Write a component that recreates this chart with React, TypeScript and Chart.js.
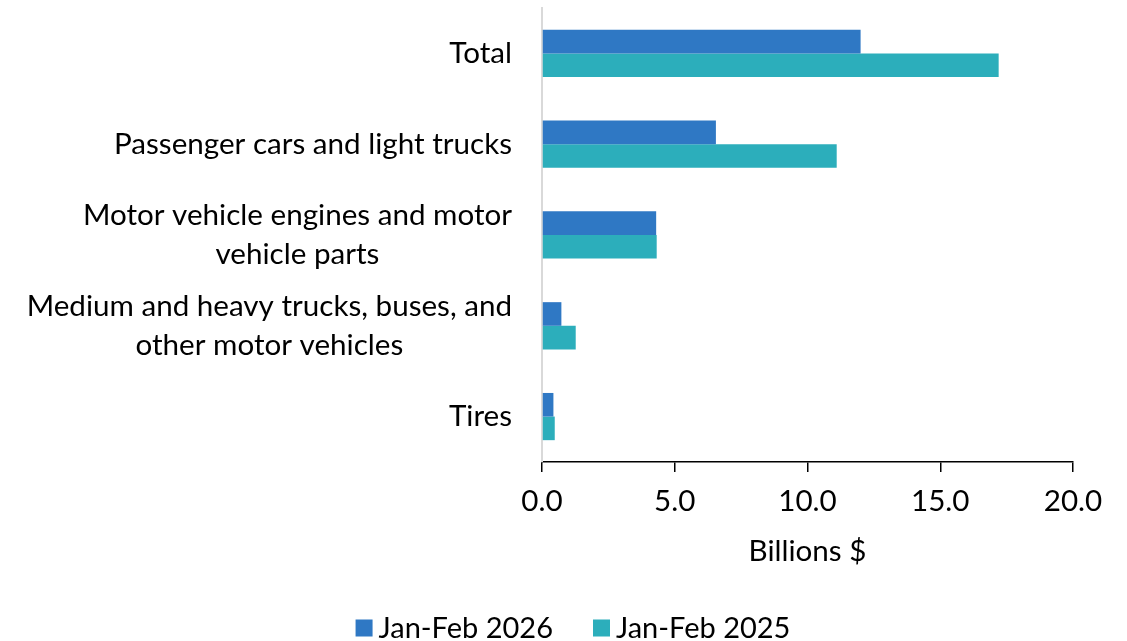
import React, { useEffect, useRef } from "react";
import { Chart, registerables } from "chart.js";

Chart.register(...registerables);

const categories: string[][] = [
  ["Total"],
  ["Passenger cars and light trucks"],
  ["Motor vehicle engines and motor", "vehicle parts"],
  ["Medium and heavy trucks, buses, and", "other motor vehicles"],
  ["Tires"],
];
const series2026Label = "Jan-Feb 2026";
const series2025Label = "Jan-Feb 2025";
const values2026 = [12.0, 6.55, 4.3, 0.73, 0.43];
const values2025 = [17.2, 11.1, 4.32, 1.27, 0.48];
const xTicks = [0, 5, 10, 15, 20];
const xTitle = "Billions $";

const COLOR_2026 = "#2F78C4";
const COLOR_2025 = "#2CAEBB";
const FONT = "Lato";
const FS = 29.6;
const LEGEND_FS = 29;

const labelPlugin = {
  id: "customLabels",
  afterDraw(chart: any) {
    const ctx = chart.ctx;
    const yScale = chart.scales.y;
    ctx.save();
    ctx.font = `${FS}px ${FONT}`;
    ctx.fillStyle = "#000";
    ctx.textBaseline = "middle";
    ctx.textAlign = "center";
    const rightX = chart.chartArea.left - 30;
    const lh = 39;
    categories.forEach((lines, i) => {
      const cy = yScale.getPixelForValue(i);
      const w = Math.max(...lines.map((l) => ctx.measureText(l).width));
      const cx = rightX - w / 2;
      lines.forEach((l, j) => {
        ctx.fillText(l, cx, cy + (j - (lines.length - 1) / 2) * lh);
      });
    });
    // legend
    ctx.font = `${LEGEND_FS}px ${FONT}`;
    const items = [
      { label: series2026Label, color: COLOR_2026 },
      { label: series2025Label, color: COLOR_2025 },
    ];
    const box = 17;
    const gapBoxText = 6;
    const gapItems = 40;
    const widths = items.map((it) => box + gapBoxText + ctx.measureText(it.label).width);
    const total = widths.reduce((a, b) => a + b, 0) + gapItems;
    let x = 573 - total / 2;
    const ly = 628;
    ctx.textAlign = "left";
    items.forEach((it, i) => {
      ctx.fillStyle = it.color;
      ctx.fillRect(x, ly - box / 2, box, box);
      ctx.fillStyle = "#000";
      ctx.fillText(it.label, x + box + gapBoxText, ly + 1);
      x += widths[i] + gapItems;
    });
    ctx.restore();
  },
};

export default function App() {
  const ref = useRef<HTMLCanvasElement>(null);
  useEffect(() => {
    if (!ref.current) return;
    const chart = new Chart(ref.current, {
      type: "bar",
      data: {
        labels: categories.map((c) => c.join(" ")),
        datasets: [
          {
            label: series2026Label,
            data: values2026,
            backgroundColor: COLOR_2026,
            categoryPercentage: 0.52,
            barPercentage: 1.0,
          },
          {
            label: series2025Label,
            data: values2025,
            backgroundColor: COLOR_2025,
            categoryPercentage: 0.52,
            barPercentage: 1.0,
          },
        ],
      },
      options: {
        indexAxis: "y",
        animation: false,
        responsive: false,
        layout: { padding: { left: 542, right: 54, top: 8, bottom: 72 } },
        plugins: {
          legend: { display: false },
          tooltip: { enabled: false },
        },
        scales: {
          x: {
            min: 0,
            max: 20,
            afterBuildTicks: (scale: any) => {
              scale.ticks = xTicks.map((v) => ({ value: v }));
            },
            ticks: {
              color: "#000",
              font: { family: FONT, size: FS },
              padding: 12,
              maxRotation: 0,
              callback: (v: any) => Number(v).toFixed(1),
            },
            grid: {
              drawOnChartArea: false,
              drawTicks: true,
              tickLength: 10,
              color: "#000",
              lineWidth: 1.5,
            },
            border: { color: "#000", width: 1.5 },
            title: {
              display: true,
              text: xTitle,
              color: "#000",
              font: { family: FONT, size: FS },
              padding: { top: 2, bottom: 0 },
            },
          },
          y: {
            ticks: { display: false },
            grid: { display: false, drawTicks: false },
            border: { color: "#d9d9d9", width: 2 },
            afterFit: (scale: any) => {
              scale.width = 0;
            },
          },
        },
      },
      plugins: [labelPlugin],
    });
    return () => chart.destroy();
  }, []);
  return (
    <div style={{ position: "fixed", left: 0, top: 0, width: 1127, height: 641, background: "#fff" }}>
      <canvas ref={ref} width={1127} height={641} style={{ width: 1127, height: 641 }} />
    </div>
  );
}
